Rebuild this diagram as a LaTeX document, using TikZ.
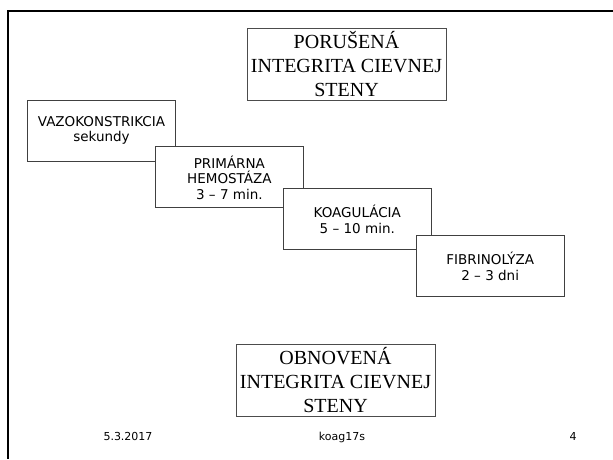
\documentclass[tikz,border=0pt]{standalone}
\usepackage{fontspec}
\setmainfont{Liberation Serif}
\newfontfamily\comicfont{DejaVu Sans}
\usetikzlibrary{positioning}

\begin{document}
\begin{tikzpicture}[x=1pt,y=-1pt,semithick]
	\tikzstyle{phase}=[draw=black!75,fill=white,line width=0.9pt,minimum width=148pt,minimum height=61pt,align=center,inner sep=2pt,font=\comicfont\fontsize{13.5}{15.5}\selectfont]
	\tikzstyle{wall}=[draw=black!70,line width=0.8pt,minimum width=199pt,minimum height=72pt,align=center,inner sep=1pt,font=\fontsize{20}{24}\selectfont]
	\tikzstyle{foot}=[anchor=base,font=\comicfont\fontsize{11}{13}\selectfont]
	\useasboundingbox (0,0) rectangle (613,459);
	% ramik slajdu
	\draw[line width=2pt] (613,11) -- (8,11) -- (8,459);
	\node[wall]  (P) at (346.5,64.5) {PORUŠENÁ\\INTEGRITA CIEVNEJ\\STENY};
	\node[phase] (A) at (101.5,130.5) {VAZOKONSTRIKCIA\\sekundy};
	\node[phase] (B)[below right=-15pt and -21pt of A] {PRIMÁRNA\\HEMOSTÁZA\\3 – 7 min.};
	\node[phase] (C)[below right=-20pt and -21pt of B] {KOAGULÁCIA\\5 – 10 min.};
	\node[phase] (D)[below right=-15pt and -16pt of C] {FIBRINOLÝZA\\2 – 3 dni};
	\node[wall]  (O) at (335.5,380) {OBNOVENÁ\\INTEGRITA CIEVNEJ\\STENY};
	% pata
	\node[foot] (datum) at (128,440) {5.3.2017};
	\node[foot] (nazov) at (342,440) {koag17s};
	\node[foot] (cislo) at (573,440) {4};
\end{tikzpicture}
\end{document}
